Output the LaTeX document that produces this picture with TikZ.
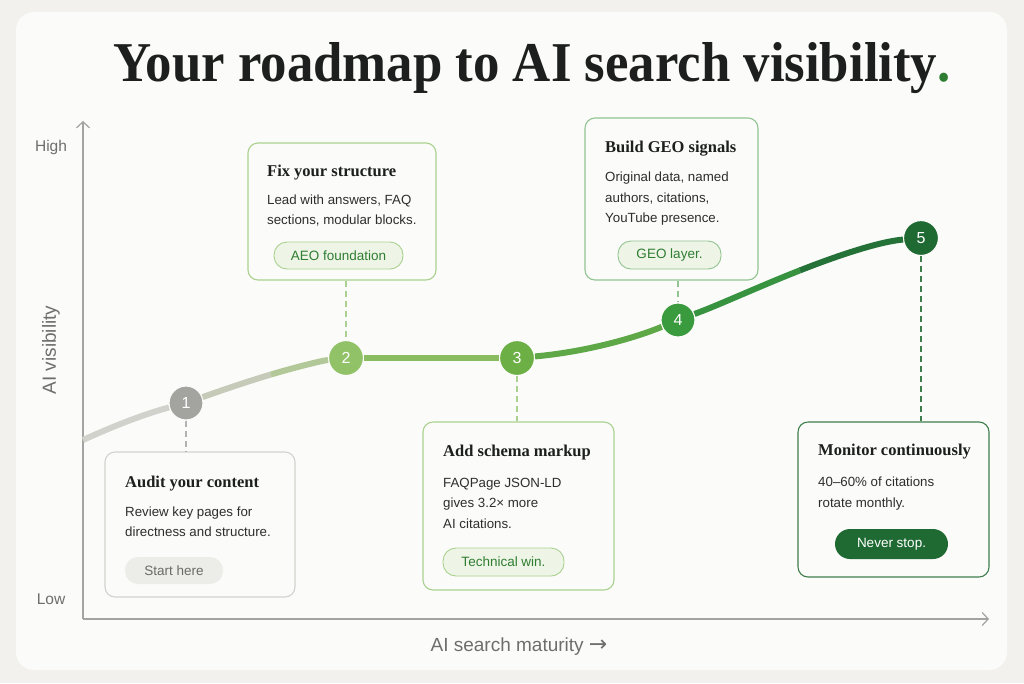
\documentclass[tikz,border=0pt]{standalone}
\usepackage{fontspec}
\setmainfont{Liberation Serif}
\setsansfont{Liberation Sans}
\newfontfamily\arrowfont{DejaVu Sans}
\usetikzlibrary{arrows.meta,calc}
\definecolor{bgout}{HTML}{F2F1ED}
\definecolor{cardbg}{HTML}{FBFBF9}
\definecolor{titletext}{HTML}{1C1F1D}
\definecolor{bodytext}{HTML}{2E2E2E}
\definecolor{axisgrey}{HTML}{A3A39F}
\definecolor{labelgrey}{HTML}{6E6E6C}
\definecolor{greyborder}{HTML}{D2D2CE}
\definecolor{lgborder}{HTML}{AAD18F}
\definecolor{mgborder}{HTML}{92C492}
\definecolor{dgborder}{HTML}{3E7E4C}
\definecolor{pillgreybg}{HTML}{ECECE9}
\definecolor{pillgreytext}{HTML}{6A6A68}
\definecolor{pillgreenbg}{HTML}{EEF5E6}
\definecolor{pillgreentext}{HTML}{2F7D32}
\definecolor{darkgreen}{HTML}{1F6A32}
\definecolor{cone}{HTML}{A3A39F}
\definecolor{ctwo}{HTML}{92C267}
\definecolor{cthree}{HTML}{6BAF45}
\definecolor{cfour}{HTML}{3A9A3E}
\definecolor{cfive}{HTML}{1E6A32}
\definecolor{segzero}{HTML}{D2D2CD}
\definecolor{segonea}{HTML}{C6CBB9}
\definecolor{segoneb}{HTML}{B2C898}
\definecolor{segtwo}{HTML}{8ABD62}
\definecolor{segthree}{HTML}{5FA847}
\definecolor{segfoura}{HTML}{379340}
\definecolor{segfourb}{HTML}{247238}
\definecolor{titlegreen}{HTML}{2E7D32}
\begin{document}
\begin{tikzpicture}[x=1pt,y=-1pt,
  card/.style={rounded corners=10pt, line width=1.1pt, fill=cardbg},
  ttl/.style={anchor=base west, inner sep=0pt, text=titletext, font=\bfseries\fontsize{16.5}{18}\selectfont},
  bod/.style={anchor=base west, inner sep=0pt, text=bodytext, font=\sffamily\fontsize{13.3}{16}\selectfont},
  pill/.style={rounded corners=13pt, inner sep=0pt, line width=0.9pt, font=\sffamily\fontsize{13.5}{16}\selectfont},
  stepdot/.style={circle, minimum size=35pt, inner sep=0pt, draw=cardbg, line width=1.2pt, text=white, font=\sffamily\fontsize{16}{16}\selectfont},
  curve/.style={line width=6pt, line cap=butt},
  dashlink/.style={line width=1.3pt, dash pattern=on 6pt off 4pt},
  axis/.style={line width=1.2pt, draw=axisgrey},
  axlbl/.style={inner sep=0pt, text=labelgrey, font=\sffamily\fontsize{15.5}{18}\selectfont}
]
\useasboundingbox (0,0) rectangle (1024,683);
\fill[bgout] (0,0) rectangle (1024,683);
\fill[cardbg, rounded corners=18pt] (16,12) rectangle (1007,670);

% title
\node[anchor=base, inner sep=0pt, text=titletext] (title) at (532,81)
  {\resizebox{837pt}{39pt}{\bfseries Your roadmap to AI search visibility{\color{titlegreen}.}}};

% axes
\coordinate (origin) at (83,619);
\coordinate (ytop) at (83,121);
\coordinate (xend) at (989,619);
\draw[axis, -{Straight Barb[length=6pt,width=13pt]}] (origin) -- (ytop);
\draw[axis, -{Straight Barb[length=6pt,width=13pt]}] (origin) -- (xend);
\node[axlbl] (high) at (51,147) {High};
\node[axlbl] (low) at (51,599) {Low};
\node[axlbl, rotate=90, font=\sffamily\fontsize{19}{20}\selectfont] (yl) at (51,350) {AI visibility};
\node[axlbl, anchor=base, font=\sffamily\fontsize{19}{20}\selectfont] (xl) at (519,651) {AI search maturity {\arrowfont\fontsize{22}{22}\selectfont →}};

% step dots
\node[stepdot, fill=cone, minimum size=34pt] (c1) at (186,403) {1};
\node[stepdot, fill=ctwo] (c2) at (346,358) {2};
\node[stepdot, fill=cthree] (c3) at (517,358) {3};
\node[stepdot, fill=cfour, minimum size=34pt] (c4) at (678,320) {4};
\node[stepdot, fill=cfive] (c5) at (921,238) {5};

% curve
\coordinate (start) at (83,440);
\coordinate (m12) at (270.9,374.5);
\coordinate (m45) at (799.9,270.4);
\draw[curve, segzero] (start) .. controls (118,424) and (148,413) .. (c1);
\draw[curve, segonea] (c1) .. controls (215.5,392.5) and (244,382.5) .. (m12);
\draw[curve, segoneb] (m12) .. controls (297.75,366.5) and (323,360.5) .. (c2);
\draw[curve, segtwo] (c2) -- (c3);
\draw[curve, segthree] (c3) .. controls (585,352) and (635,338) .. (c4);
\draw[curve, segfoura] (c4) .. controls (719,305) and (759.5,286.25) .. (m45);
\draw[curve, segfourb] (m45) .. controls (840.25,254.5) and (880.5,241.5) .. (c5);

% boxes
\node[card, draw=greyborder, minimum width=190pt, minimum height=145pt] (b1) at (200,524.5) {};
\node[card, draw=lgborder, minimum width=188pt, minimum height=137pt] (b2) at (342,211.5) {};
\node[card, draw=lgborder, minimum width=191pt, minimum height=168pt] (b3) at (518.5,506) {};
\node[card, draw=mgborder, minimum width=173pt, minimum height=162pt] (b4) at (671.5,199) {};
\node[card, draw=dgborder, minimum width=191pt, minimum height=155pt] (b5) at (893.5,499.5) {};

% dashed links
\draw[dashlink, draw=greyborder!85!black] (c1.south) -- (c1 |- b1.north);
\draw[dashlink, draw=lgborder] (c2 |- b2.south) -- (c2.north);
\draw[dashlink, draw=lgborder] (c3.south) -- (c3 |- b3.north);
\draw[dashlink, draw=mgborder] (c4 |- b4.south) -- (c4.north);
\draw[dashlink, draw=dgborder] (c5.south) -- (c5 |- b5.north);

% box 1
\node[ttl] (b1t) at (125,487) {Audit your content};
\node[bod] (b1a) at (125,516) {Review key pages for};
\node[bod] (b1b) at (125,536) {directness and structure.};
\node[pill, fill=pillgreybg, text=pillgreytext, minimum width=98pt, minimum height=27pt] (b1p) at (174,570.5) {Start here};

% box 2
\node[ttl] (b2t) at (267,176) {Fix your structure};
\node[bod] (b2a) at (267,204) {Lead with answers, FAQ};
\node[bod] (b2b) at (267,224) {sections, modular blocks.};
\node[pill, fill=pillgreenbg, draw=lgborder, text=pillgreentext, minimum width=129pt, minimum height=27pt] (b2p) at (338.5,255.5) {AEO foundation};

% box 3
\node[ttl] (b3t) at (443,456) {Add schema markup};
\node[bod] (b3a) at (443,487) {FAQPage JSON-LD};
\node[bod] (b3b) at (443,507) {gives 3.2× more};
\node[bod] (b3c) at (443,528) {AI citations.};
\node[pill, fill=pillgreenbg, draw=lgborder, text=pillgreentext, minimum width=121pt, minimum height=28pt] (b3p) at (503.5,562) {Technical win.};

% box 4
\node[ttl] (b4t) at (605,152) {Build GEO signals};
\node[bod] (b4a) at (605,181) {Original data, named};
\node[bod] (b4b) at (605,202) {authors, citations,};
\node[bod] (b4c) at (605,222) {YouTube presence.};
\node[pill, fill=pillgreenbg, draw=mgborder, text=pillgreentext, minimum width=103pt, minimum height=28pt] (b4p) at (669.5,255) {GEO layer.};

% box 5
\node[ttl] (b5t) at (818,455) {Monitor continuously};
\node[bod] (b5a) at (818,486) {40–60\% of citations};
\node[bod] (b5b) at (818,507) {rotate monthly.};
\node[pill, fill=darkgreen, text=white, rounded corners=15pt, minimum width=113pt, minimum height=30pt] (b5p) at (891.5,544) {Never stop.};
\end{tikzpicture}
\end{document}
